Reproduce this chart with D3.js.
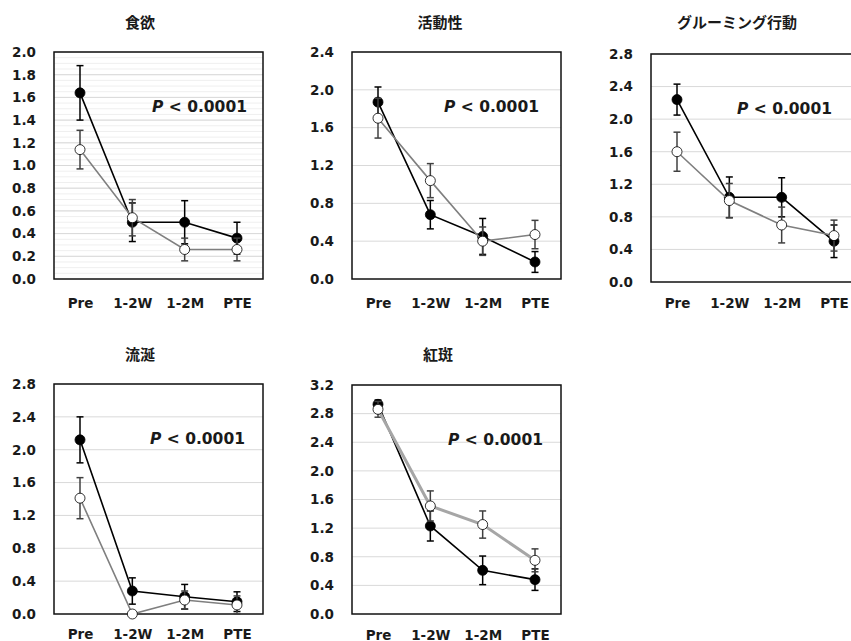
<!DOCTYPE html>
<html>
<head>
<meta charset="utf-8">
<script src="https://cdn.jsdelivr.net/npm/d3@7"></script>
<style>
  body { margin: 0; background: #fff; }
  svg text { font-family: "DejaVu Sans", Verdana, sans-serif; font-weight: bold; fill: #1a1a1a; }
  svg text.title { font-family: "Noto Sans CJK JP", sans-serif; }
</style>
</head>
<body>
<div id="chart"></div>
<script>
// categories and panel titles
const categories = ['Pre', '1-2W', '1-2M', 'PTE'];
const titles = ['食欲', '活動性', 'グルーミング行動', '流涎', '紅斑'];
const yMax = [2.0, 2.4, 2.8, 2.8, 3.2];
const yStep = [0.2, 0.4, 0.4, 0.4, 0.4];
const pLabel = 'P < 0.0001';

// filled circles (black series)
const blackMean = [
  [1.64, 0.50, 0.50, 0.36],
  [1.87, 0.68, 0.45, 0.18],
  [2.24, 1.04, 1.04, 0.50],
  [2.12, 0.28, 0.21, 0.15],
  [2.93, 1.23, 0.61, 0.48]
];
const blackErr = [
  [0.24, 0.17, 0.19, 0.14],
  [0.16, 0.15, 0.19, 0.11],
  [0.19, 0.25, 0.24, 0.20],
  [0.28, 0.16, 0.15, 0.12],
  [0.06, 0.21, 0.20, 0.15]
];
// open circles (grey series)
const whiteMean = [
  [1.14, 0.54, 0.26, 0.26],
  [1.70, 1.04, 0.40, 0.47],
  [1.60, 1.00, 0.70, 0.57],
  [1.41, 0.00, 0.17, 0.11],
  [2.86, 1.51, 1.25, 0.75]
];
const whiteErr = [
  [0.17, 0.16, 0.10, 0.10],
  [0.21, 0.18, 0.15, 0.15],
  [0.24, 0.21, 0.22, 0.19],
  [0.25, 0.00, 0.11, 0.11],
  [0.11, 0.21, 0.19, 0.16]
];

// where each panel's plot box sits on the page
const boxes = [
  { x: 54, top: 52, bottom: 279, tx: 140, ty: 28, px: 98, lx: 15 },
  { x: 352, top: 52, bottom: 279, tx: 440, ty: 28, px: 92, lx: 15 },
  { x: 651, top: 54, bottom: 282, tx: 737, ty: 28, px: 86, lx: 12 },
  { x: 54, top: 384, bottom: 614, tx: 140, ty: 360, px: 96, lx: 11 },
  { x: 352, top: 385, bottom: 614, tx: 438, ty: 360, px: 96, lx: 12 }
];
const boxW = 209;

const svg = d3.select('#chart').append('svg')
  .attr('width', 851).attr('height', 641);

titles.forEach((title, i) => {
  const b = boxes[i];
  const g = svg.append('g');

  const x = d3.scalePoint().domain(categories).range([b.x + 26, b.x + boxW - 26]);
  const y = d3.scaleLinear().domain([0, yMax[i]]).range([b.bottom, b.top]);
  const ticks = d3.range(0, yMax[i] + 1e-9, yStep[i]);

  // faint stripes in the first panel
  if (i === 0) {
    g.selectAll('.minor')
      .data(d3.range(0.05, yMax[i], 0.05))
      .enter().append('line')
      .attr('x1', b.x).attr('x2', b.x + boxW)
      .attr('y1', d => y(d)).attr('y2', d => y(d))
      .attr('stroke', '#efefef').attr('stroke-width', 1);
  }

  // grid lines
  g.selectAll('.grid')
    .data(ticks.slice(1))
    .enter().append('line')
    .attr('x1', b.x).attr('x2', b.x + boxW)
    .attr('y1', d => y(d)).attr('y2', d => y(d))
    .attr('stroke', '#d9d9d9').attr('stroke-width', 1);

  // y axis labels
  const yAxis = g.append('g')
    .attr('transform', `translate(${b.x - 8}, 0)`)
    .call(d3.axisLeft(y).tickValues(ticks).tickFormat(d3.format('.1f')).tickSize(0).tickPadding(10));
  yAxis.select('.domain').remove();
  yAxis.selectAll('text').attr('font-size', 13.5).attr('font-family', null).attr('fill', '#1a1a1a');

  // x axis labels
  const xAxis = g.append('g')
    .attr('transform', `translate(0, ${b.bottom + b.lx})`)
    .call(d3.axisBottom(x).tickSize(0).tickPadding(4));
  xAxis.select('.domain').remove();
  xAxis.selectAll('text').attr('font-size', 13.5).attr('font-family', null).attr('fill', '#1a1a1a');

  // plot box
  g.append('rect')
    .attr('x', b.x).attr('y', b.top)
    .attr('width', boxW).attr('height', b.bottom - b.top)
    .attr('fill', 'none').attr('stroke', '#111').attr('stroke-width', 1.5);

  // title
  g.append('text').attr('class', 'title')
    .attr('x', b.tx).attr('y', b.ty)
    .attr('text-anchor', 'middle').attr('font-size', 15)
    .text(title);

  // P value
  const pt = g.append('text')
    .attr('x', b.x + b.px).attr('y', y(yMax[i]) + 60)
    .attr('font-size', 15.5);
  pt.append('tspan').attr('font-style', 'italic').text(pLabel.slice(0, 1));
  pt.append('tspan').text(pLabel.slice(1));

  const series = [
    { mean: blackMean[i], err: blackErr[i], line: '#000', lw: 1.6, bar: '#000', fill: '#000' },
    { mean: whiteMean[i], err: whiteErr[i], line: i === 4 ? '#a6a6a6' : '#7f7f7f', lw: i === 4 ? 3 : 1.6, bar: '#404040', fill: '#fff' }
  ];

  series.forEach(s => {
    const pts = categories.map((c, k) => ({ c, v: s.mean[k], e: s.err[k] }));

    // error bars
    const eb = g.append('g').selectAll('g')
      .data(pts.filter(d => d.e > 0))
      .enter().append('g')
      .attr('stroke', s.bar).attr('stroke-width', 1.5);
    eb.append('line')
      .attr('x1', d => x(d.c)).attr('x2', d => x(d.c))
      .attr('y1', d => y(d.v - d.e)).attr('y2', d => y(d.v + d.e));
    eb.append('line')
      .attr('x1', d => x(d.c) - 3.5).attr('x2', d => x(d.c) + 3.5)
      .attr('y1', d => y(d.v + d.e)).attr('y2', d => y(d.v + d.e));
    eb.append('line')
      .attr('x1', d => x(d.c) - 3.5).attr('x2', d => x(d.c) + 3.5)
      .attr('y1', d => y(d.v - d.e)).attr('y2', d => y(d.v - d.e));

    // line
    g.append('path')
      .datum(pts)
      .attr('fill', 'none').attr('stroke', s.line).attr('stroke-width', s.lw)
      .attr('d', d3.line().x(d => x(d.c)).y(d => y(d.v)));

    // markers
    g.append('g').selectAll('circle')
      .data(pts)
      .enter().append('circle')
      .attr('cx', d => x(d.c)).attr('cy', d => y(d.v))
      .attr('r', 5)
      .attr('fill', s.fill).attr('stroke', '#000').attr('stroke-width', 0.8);
  });
});
</script>
</body>
</html>
